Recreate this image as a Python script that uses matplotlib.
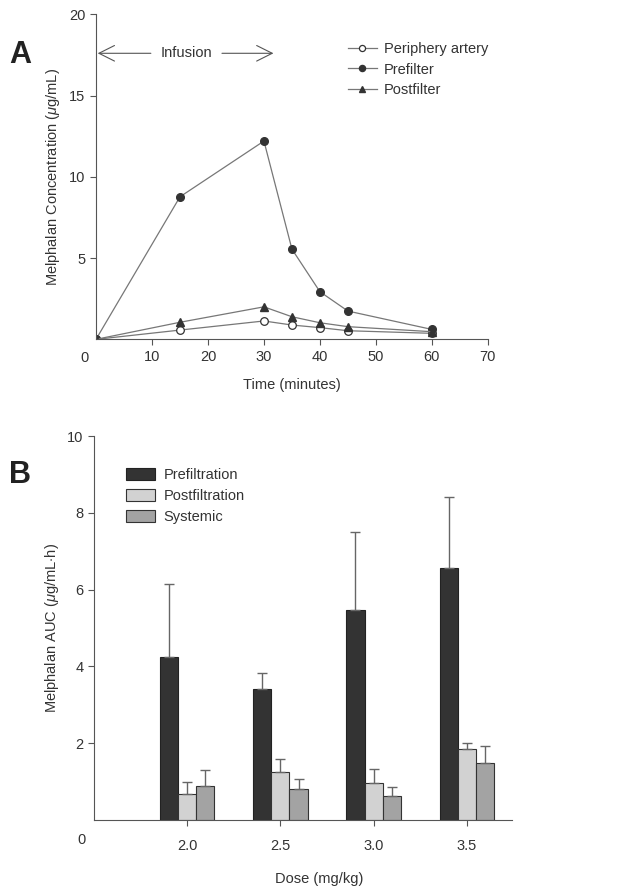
import numpy as np
import matplotlib
matplotlib.use('Agg')
import matplotlib.pyplot as plt

plt.rcParams['font.family'] = ['Liberation Sans', 'DejaVu Sans']
plt.rcParams['mathtext.fontset'] = 'custom'
plt.rcParams['mathtext.it'] = 'Liberation Sans:italic'
plt.rcParams['mathtext.rm'] = 'Liberation Sans'

# Panel A data: concentration over time
time_min = [0, 15, 30, 35, 40, 45, 60]
periphery = [0, 0.57, 1.13, 0.88, 0.72, 0.53, 0.37]
prefilter = [0, 8.77, 12.2, 5.55, 2.93, 1.74, 0.61]
postfilter = [0, 1.05, 2.0, 1.39, 1.02, 0.78, 0.47]

# Panel B data: AUC by dose
doses = ['2.0', '2.5', '3.0', '3.5']
prefiltration = [4.25, 3.42, 5.48, 6.57]
prefiltration_err = [1.89, 0.42, 2.02, 1.83]
postfiltration = [0.69, 1.24, 0.97, 1.86]
postfiltration_err = [0.31, 0.34, 0.35, 0.15]
systemic = [0.88, 0.82, 0.62, 1.49]
systemic_err = [0.42, 0.26, 0.23, 0.45]

fig = plt.figure(figsize=(6.21, 8.93), dpi=100)
tc = '#333333'

# ---- Panel A ----
ax1 = fig.add_axes([0.1546, 0.620, 0.631, 0.364])
lc = '#777777'
ax1.plot(time_min, periphery, '-o', color=lc, lw=0.9, mfc='white', mec='#333333',
         ms=5.5, mew=0.9, label='Periphery artery')
ax1.plot(time_min, prefilter, '-o', color=lc, lw=0.9, mfc='#333333', mec='#333333',
         ms=5.5, label='Prefilter')
ax1.plot(time_min, postfilter, '-^', color=lc, lw=0.9, mfc='#333333', mec='#333333',
         ms=5.5, label='Postfilter')
ax1.set_xlim(0, 70)
ax1.set_ylim(0, 20)
ax1.set_xticks([10, 20, 30, 40, 50, 60, 70])
ax1.set_yticks([5, 10, 15, 20])
ax1.set_xlabel('Time (minutes)', fontsize=10.5, color=tc, labelpad=10)
ax1.set_ylabel(r'Melphalan Concentration ($\mu$g/mL)', fontsize=10.5, color=tc, labelpad=5)
ax1.text(-0.02, -0.035, '0', transform=ax1.transAxes, ha='right', va='top',
         fontsize=10.5, color=tc)

# infusion arrows
ax1.annotate('', xy=(0.3, 17.6), xytext=(9.8, 17.6),
             arrowprops=dict(arrowstyle='->', color='#555555', lw=0.8,
                             mutation_scale=28, shrinkA=0, shrinkB=0))
ax1.annotate('', xy=(31.7, 17.6), xytext=(22.5, 17.6),
             arrowprops=dict(arrowstyle='->', color='#555555', lw=0.8,
                             mutation_scale=28, shrinkA=0, shrinkB=0))
ax1.text(16.2, 17.6, 'Infusion', ha='center', va='center', fontsize=10.5, color=tc)

leg1 = ax1.legend(loc='upper right', bbox_to_anchor=(1.035, 0.955), frameon=False,
                  fontsize=10.5, handlelength=2.0, handletextpad=0.5,
                  labelspacing=0.45, markerscale=0.8)
for t in leg1.get_texts():
    t.set_color(tc)

# ---- Panel B ----
ax2 = fig.add_axes([0.151, 0.0817, 0.673, 0.430])
x = np.arange(1, len(doses) + 1)
w = 0.195
ekw = dict(ecolor='#666666', elinewidth=1.0, capsize=3.5, capthick=1.0)
zeros = [0] * len(doses)
ax2.bar(x - w, prefiltration, w, color='#333333', edgecolor='#222222', lw=0.8,
        yerr=[zeros, prefiltration_err], error_kw=ekw, label='Prefiltration')
ax2.bar(x, postfiltration, w, color='#d2d2d2', edgecolor='#333333', lw=0.8,
        yerr=[zeros, postfiltration_err], error_kw=ekw, label='Postfiltration')
ax2.bar(x + w, systemic, w, color='#a3a3a3', edgecolor='#333333', lw=0.8,
        yerr=[zeros, systemic_err], error_kw=ekw, label='Systemic')
ax2.set_xlim(0, 4.48)
ax2.set_ylim(0, 10)
ax2.set_xticks(x)
ax2.set_xticklabels(doses)
ax2.set_yticks([2, 4, 6, 8, 10])
ax2.tick_params(axis='x', length=0, pad=10)
ax2.set_xlabel('Dose (mg/kg)', fontsize=10.5, color=tc)
ax2.xaxis.set_label_coords(0.54, -0.135)
ax2.set_ylabel(r'Melphalan AUC ($\mu$g/mL$\cdot$h)', fontsize=10.5, color=tc, labelpad=4)
ax2.text(-0.02, -0.035, '0', transform=ax2.transAxes, ha='right', va='top',
         fontsize=10.5, color=tc)
leg2 = ax2.legend(loc='upper left', bbox_to_anchor=(0.045, 0.95), frameon=False,
                  fontsize=10.5, handlelength=2.0, handleheight=0.9,
                  handletextpad=0.6, labelspacing=0.45)
for t in leg2.get_texts():
    t.set_color(tc)

for ax in (ax1, ax2):
    ax.spines['top'].set_visible(False)
    ax.spines['right'].set_visible(False)
    ax.spines['left'].set_color('#555555')
    ax.spines['bottom'].set_color('#555555')
    ax.tick_params(labelsize=10.5, colors=tc, length=4, width=0.8)
    ax.tick_params(axis='both', color='#555555')

fig.text(0.015, 0.929, 'A', fontsize=22, fontweight='bold', color='#222222')
fig.text(0.015, 0.459, 'B', fontsize=22, fontweight='bold', color='#222222')

fig.savefig('out.png', dpi=100)
